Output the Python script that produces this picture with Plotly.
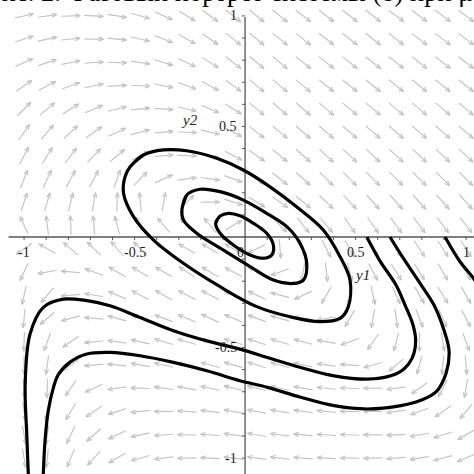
import math
import plotly.graph_objects as go

# direction field grid (Maple dfieldplot, 20 x 20)
GRID_Y1 = [-1.0, -0.895, -0.789, -0.684, -0.579, -0.474, -0.368, -0.263, -0.158, -0.053,
           0.053, 0.158, 0.263, 0.368, 0.474, 0.579, 0.684, 0.789, 0.895, 1.0]
GRID_Y2 = [1.0, 0.895, 0.789, 0.684, 0.579, 0.474, 0.368, 0.263, 0.158, 0.053,
           -0.053, -0.158, -0.263, -0.368, -0.474, -0.579, -0.684, -0.789, -0.895, -1.0]

# arrow directions in degrees, one row per GRID_Y2 value (top to bottom)
FIELD_ANGLE_DEG = [
    [13, 8, 2, -3, -9, -16, -24, -31, -36, -39, -39, -39, -38, -38, -38, -38, -37, -37, -37, -37],
    [18, 12, 5, 0, -6, -13, -21, -29, -35, -39, -40, -39, -39, -38, -38, -38, -38, -37, -37, -37],
    [25, 19, 11, 4, -2, -9, -17, -26, -33, -38, -40, -40, -39, -39, -39, -38, -38, -38, -38, -38],
    [35, 28, 20, 12, 4, -3, -11, -20, -29, -36, -40, -40, -40, -39, -39, -39, -39, -39, -39, -39],
    [45, 40, 32, 23, 14, 5, -4, -12, -23, -32, -40, -41, -41, -40, -40, -40, -40, -40, -40, -40],
    [55, 50, 43, 35, 25, 15, 5, -3, -14, -27, -38, -40, -41, -41, -41, -41, -41, -41, -41, -41],
    [62, 58, 53, 47, 40, 28, 5, -2, -15, -28, -35, -40, -42, -43, -43, -43, -43, -43, -43, -43],
    [68, 66, 62, 62, 70, 45, 25, 8, -8, -20, -35, -38, -42, -45, -45, -45, -45, -45, -45, -45],
    [72, 74, 76, 80, 88, 95, 80, 45, 0, -18, -32, -35, -40, -44, -47, -48, -48, -48, -48, -48],
    [115, 97, 92, 95, 105, 120, 130, 135, 130, 30, -37, -45, -52, -50, -55, -55, -54, -53, -53, -52],
    [215, 150, 140, 135, 130, 135, 145, 150, 150, 150, 205, -85, -72, -62, -60, -58, -57, -57, -57, -57],
    [245, 190, 175, 160, 150, 150, 150, 147, 150, 152, 150, 200, -100, -83, -75, -62, -58, -58, -60, -60],
    [258, 230, 185, 170, 157, 152, 150, 152, 152, 155, 155, 165, 205, -120, -95, -78, -66, -60, -58, -60],
    [265, 220, 195, 175, 165, 160, 160, 158, 155, 157, 160, 165, 172, 190, -120, -100, -82, -68, -66, -62],
    [268, 250, 215, 185, 172, 167, 163, 163, 163, 163, 162, 163, 165, 170, 200, 235, -105, -90, -80, -70],
    [270, 262, 215, 185, 175, 170, 168, 166, 165, 164, 163, 165, 168, 172, 176, 195, 220, -105, -95, -85],
    [275, 268, 235, 205, 188, 178, 172, 170, 168, 166, 166, 168, 170, 174, 177, 180, 188, 215, -118, -100],
    [278, 258, 240, 215, 198, 186, 180, 176, 173, 170, 168, 170, 172, 175, 178, 180, 188, 200, 215, 230],
    [280, 262, 245, 222, 205, 192, 184, 179, 175, 172, 170, 172, 174, 176, 178, 180, 183, 190, 198, 210],
    [280, 264, 248, 228, 210, 196, 187, 181, 177, 174, 172, 173, 175, 177, 179, 181, 184, 189, 195, 203],
]

# closed trajectories around the centre
INNER_Y1 = [-0.133, -0.113, -0.075, -0.023, 0.038, 0.098, 0.128, 0.121, 0.083, 0.023, -0.053, -0.113]
INNER_Y2 = [0.062, 0.095, 0.107, 0.096, 0.062, 0.017, -0.036, -0.081, -0.096, -0.081, -0.036, 0.017]

MIDDLE_Y1 = [-0.286, -0.264, -0.204, -0.113, -0.008, 0.098, 0.189, 0.249, 0.279, 0.264, 0.219,
             0.128, 0.023, -0.098, -0.219, -0.279]
MIDDLE_Y2 = [0.122, 0.190, 0.216, 0.205, 0.167, 0.107, 0.047, -0.029, -0.119, -0.195, -0.210,
             -0.195, -0.134, -0.059, 0.017, 0.077]

OUTER_Y1 = [-0.520, -0.460, -0.369, -0.264, -0.128, -0.008, 0.113, 0.233, 0.354, 0.430, 0.475,
            0.467, 0.430, 0.339, 0.204, 0.053, -0.113, -0.279, -0.414, -0.505, -0.550, -0.543]
OUTER_Y2 = [0.318, 0.371, 0.394, 0.390, 0.356, 0.303, 0.227, 0.137, 0.032, -0.089, -0.195,
            -0.316, -0.368, -0.383, -0.361, -0.315, -0.225, -0.119, -0.014, 0.092, 0.198, 0.273]

# open trajectories starting on the y1 axis
OPEN_B_Y1 = [0.551, 0.611, 0.683, 0.724, 0.760, 0.772, 0.756, 0.719, 0.659, 0.553, 0.403, 0.252,
             0.101, -0.023, -0.173, -0.324, -0.475, -0.611, -0.716, -0.822, -0.913, -0.973,
             -0.995, -0.988, -0.981]
OPEN_B_Y2 = [0.0, -0.109, -0.217, -0.308, -0.398, -0.471, -0.548, -0.597, -0.628, -0.643, -0.628,
             -0.590, -0.545, -0.507, -0.470, -0.424, -0.364, -0.311, -0.288, -0.281, -0.318,
             -0.439, -0.665, -0.891, -1.072]

OPEN_C_Y1 = [0.656, 0.716, 0.792, 0.855, 0.900, 0.923, 0.910, 0.864, 0.792, 0.705, 0.553, 0.403,
             0.252, 0.101, -0.023, -0.173, -0.324, -0.475, -0.611, -0.716, -0.792, -0.846,
             -0.867, -0.890, -0.905, -0.913]
OPEN_C_Y2 = [0.0, -0.096, -0.210, -0.308, -0.421, -0.514, -0.615, -0.701, -0.740, -0.763, -0.778,
             -0.763, -0.725, -0.680, -0.650, -0.605, -0.567, -0.537, -0.522, -0.529, -0.566,
             -0.624, -0.680, -0.783, -0.919, -1.072]

OPEN_D_Y1 = [0.905, 0.973, 1.036, 1.086]
OPEN_D_Y2 = [0.0, -0.112, -0.190, -0.271]

X_TICKS = [-1, -0.5, 0.5, 1]
X_TICK_TEXT = ["-1", "-0.5", "0.5", "1"]
Y_TICKS = [1, 0.5, -0.5, -1]
Y_TICK_TEXT = ["1", "0.5", "-0.5", "-1"]

CAPTION = "Рис. 2. Фазовый портрет системы (8) при μ"

X_RANGE = [-1.109, 1.036]
Y_RANGE = [-1.072, 1.072]

fig = go.Figure()

# direction field arrows
half = 0.043
head = 0.024
spread = math.radians(22)
ax, ay = [], []
for row, yv in zip(FIELD_ANGLE_DEG, GRID_Y2):
    for ang, xv in zip(row, GRID_Y1):
        t = math.radians(ang)
        x0, y0 = xv - half * math.cos(t), yv - half * math.sin(t)
        x1, y1 = xv + half * math.cos(t), yv + half * math.sin(t)
        ax += [x0, x1, None]
        ay += [y0, y1, None]
        for s in (spread, -spread):
            ax += [x1, x1 - head * math.cos(t + s), None]
            ay += [y1, y1 - head * math.sin(t + s), None]
fig.add_trace(go.Scatter(x=ax, y=ay, mode='lines', line=dict(color='rgb(195,195,195)', width=1.15),
                         hoverinfo='skip'))

# axes with small ticks every 0.1
fig.add_trace(go.Scatter(x=[-1.07, 1.05], y=[0, 0], mode='lines',
                         line=dict(color='rgb(85,85,85)', width=1.3), hoverinfo='skip'))
fig.add_trace(go.Scatter(x=[0, 0], y=[-1.08, 0.995], mode='lines',
                         line=dict(color='rgb(85,85,85)', width=1.3), hoverinfo='skip'))
tx, ty = [], []
for k in range(-10, 11):
    v = k / 10
    if k == 0:
        continue
    tx += [v, v, None]
    ty += [0, -0.014, None]
    tx += [0, -0.014, None]
    ty += [v, v, None]
fig.add_trace(go.Scatter(x=tx, y=ty, mode='lines', line=dict(color='rgb(85,85,85)', width=1),
                         hoverinfo='skip'))

# trajectories
for xs, ys, closed in [(INNER_Y1, INNER_Y2, True), (MIDDLE_Y1, MIDDLE_Y2, True),
                       (OUTER_Y1, OUTER_Y2, True), (OPEN_B_Y1, OPEN_B_Y2, False),
                       (OPEN_C_Y1, OPEN_C_Y2, False), (OPEN_D_Y1, OPEN_D_Y2, False)]:
    if closed:
        xs = xs + xs[:2]
        ys = ys + ys[:2]
    fig.add_trace(go.Scatter(x=xs, y=ys, mode='lines',
                             line=dict(color='black', width=3.2, shape='spline', smoothing=1.0),
                             hoverinfo='skip'))

tick_font = dict(family='Liberation Serif', size=14, color='rgb(30,30,30)')
for v, t in zip(X_TICKS, X_TICK_TEXT):
    fig.add_annotation(x=v, y=-0.068, text=t, showarrow=False, font=tick_font,
                       xanchor='center', yanchor='middle')
fig.add_annotation(x=-0.02, y=-0.068, text="0", showarrow=False, font=tick_font,
                   xanchor='center', yanchor='middle')
for v, t in zip(Y_TICKS, Y_TICK_TEXT):
    fig.add_annotation(x=-0.028, y=v, text=t, showarrow=False, font=tick_font,
                       xanchor='right', yanchor='middle')

label_font = dict(family='Liberation Serif', size=15, color='rgb(30,30,30)')
fig.add_annotation(x=0.53, y=-0.172, text="<i>y1</i>", showarrow=False, font=label_font)
fig.add_annotation(x=-0.253, y=0.529, text="<i>y2</i>", showarrow=False, font=label_font)

# caption of the page above, mostly cut off by the top edge
fig.add_annotation(xref='paper', yref='paper', x=0, y=1, xshift=-15, yshift=25,
                   xanchor='left', yanchor='top', text=CAPTION, showarrow=False,
                   font=dict(family='Liberation Serif', size=26.5, color='black'))

fig.update_layout(
    width=474, height=474,
    margin=dict(l=0, r=0, t=0, b=0),
    paper_bgcolor='white', plot_bgcolor='white',
    showlegend=False,
    xaxis=dict(range=X_RANGE, visible=False),
    yaxis=dict(range=Y_RANGE, visible=False),
)
fig.write_html("out.html", config={'displayModeBar': False},
               post_script="document.body.style.margin = '0';")
